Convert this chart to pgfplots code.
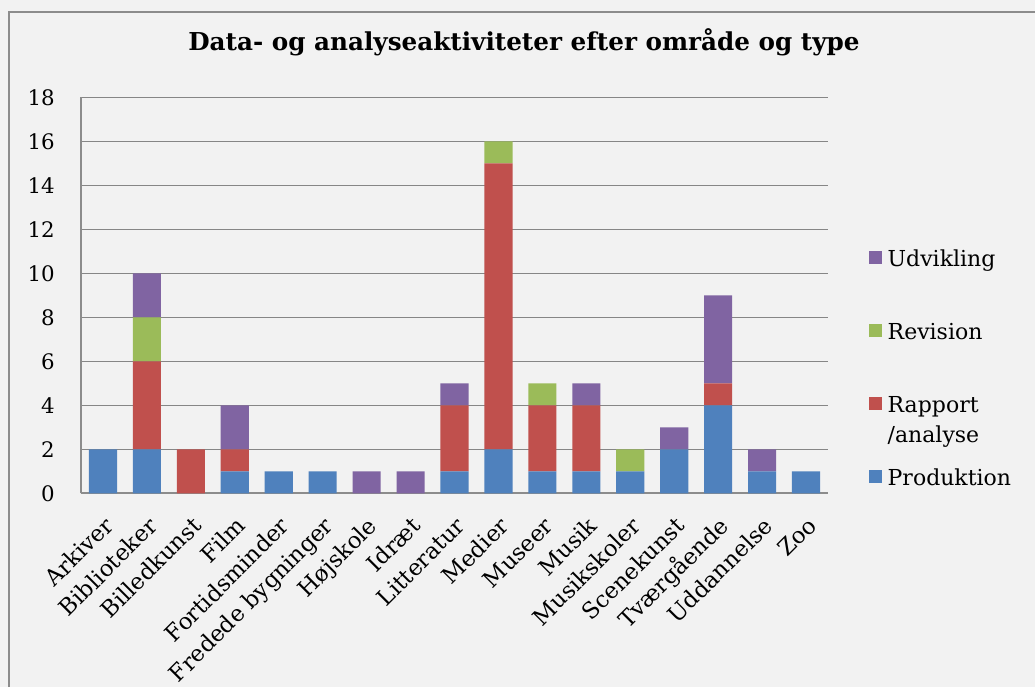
\documentclass[border=0pt]{standalone}
\usepackage{pgfplots}
\pgfplotsset{compat=1.18}
\usepackage{pgfplotstable}
\usepackage{fontspec}
\setmainfont{DejaVu Serif}
\definecolor{cP}{HTML}{4F81BD}
\definecolor{cR}{HTML}{C0504D}
\definecolor{cV}{HTML}{9BBB59}
\definecolor{cU}{HTML}{8064A2}
\definecolor{bg}{HTML}{F2F2F2}
\definecolor{gridc}{HTML}{868686}
\definecolor{framec}{HTML}{8C8C8C}
\pgfplotstableread{
x P R V U
0 2 0 0 0
1 2 4 2 2
2 0 2 0 0
3 1 1 0 2
4 1 0 0 0
5 1 0 0 0
6 0 0 0 1
7 0 0 0 1
8 1 3 0 1
9 2 13 1 0
10 1 3 1 0
11 1 3 0 1
12 1 0 1 0
13 2 0 0 1
14 4 1 0 4
15 1 0 0 1
16 1 0 0 0
}\data
\begin{document}
\begin{tikzpicture}
\fill[bg] (-60.75pt,-145.3pt) rectangle (715.5pt,370pt);
\useasboundingbox (-60.75pt,-145.3pt) rectangle (715.5pt,370pt);
\draw[framec, line width=1.5pt] (-53.8pt,-145.3pt) -- (-53.8pt,360.75pt) -- (715.5pt,360.75pt);
\begin{axis}[
  at={(0pt,0pt)}, anchor=south west,
  scale only axis, width=560.25pt, height=297pt,
  ybar stacked, bar width=0.64,
  xmin=-0.5, xmax=16.5, ymin=0, ymax=18,
  ytick={0,2,...,18},
  xtick={0,...,16},
  xticklabels={Arkiver,Biblioteker,Billedkunst,Film,Fortidsminder,Fredede bygninger,Højskole,Idræt,Litteratur,Medier,Museer,Musik,Musikskoler,Scenekunst,Tværgående,Uddannelse,Zoo},
  axis x line*=bottom, axis y line*=left,
  axis line style={-, draw=framec, line width=1.5pt},
  ymajorgrids, grid style={draw=gridc, line width=1.2pt},
  major tick length=0pt, tick style={draw=none},
  /pgf/number format/assume math mode=true,
  yticklabel style={font=\fontsize{16}{19}\selectfont, anchor=east, inner sep=0pt, xshift=-19.5pt},
  xticklabel style={font=\fontsize{17}{20}\selectfont, inner sep=0pt, text height=12.5pt, text depth=4pt, xshift=6pt, yshift=-22.5pt, rotate=45, anchor=east},
  title={Data- og analyseaktiviteter efter område og type},
  title style={at={(0.593,1.122)}, anchor=base, yshift=-7pt, font=\bfseries\fontsize{18.5}{22}\selectfont},
  legend style={at={(1.0549,0.6144)}, anchor=north west, draw=none, fill=none,
    inner sep=0pt, outer sep=0pt, row sep=38.25pt, column sep=4pt,
    font=\fontsize{16.5}{22.5}\selectfont,
    nodes={inner sep=0pt, text height=12.5pt, text depth=4pt}},
  legend cell align=left,
  reverse legend,
  every axis plot/.append style={draw=none, legend image code/.code={\fill[##1] (0pt,-2.4pt) rectangle (10pt,7.6pt);}},
]
\addplot[fill=cP] table[x=x,y=P]{\data};
\addlegendentry{Produktion}
\addplot[fill=cR] table[x=x,y=R]{\data};
\addlegendentry{\begin{tabular}[t]{@{}l@{}}Rapport\\/analyse\end{tabular}}
\addplot[fill=cV] table[x=x,y=V]{\data};
\addlegendentry{Revision}
\addplot[fill=cU] table[x=x,y=U]{\data};
\addlegendentry{Udvikling}
\end{axis}
\end{tikzpicture}
\end{document}
